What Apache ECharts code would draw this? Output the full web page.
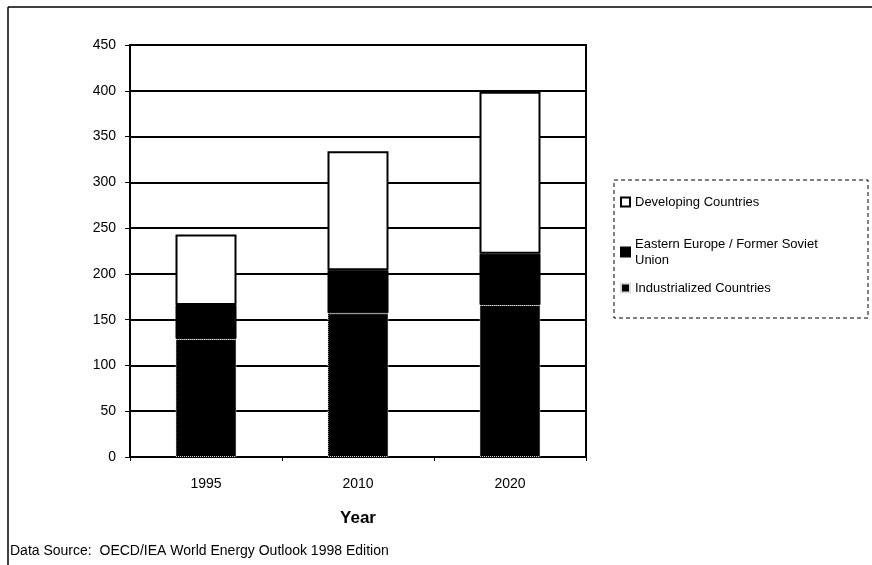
<!DOCTYPE html>
<html>
<head>
<meta charset="utf-8">
<script src="https://cdn.jsdelivr.net/npm/echarts@6/dist/echarts.min.js"></script>
<style>
  html, body { margin: 0; padding: 0; background: #fff; }
  #main { width: 872px; height: 565px; }
</style>
</head>
<body>
<div id="main"></div>
<script>
// 数据
var years = ['1995', '2010', '2020'];
var industrialized = [129, 157, 166];
var easternEurope = [37, 47, 56];
var developing = [77, 130, 177];
var yTicks = [0, 50, 100, 150, 200, 250, 300, 350, 400, 450];

var nameDev = 'Developing Countries';
var nameEE = 'Eastern Europe / Former Soviet\nUnion';
var nameInd = 'Industrialized Countries';

var chart = echarts.init(document.getElementById('main'));
var font = 'Liberation Sans, Arial, sans-serif';

// 图例，每项单独定位
function legendAt(name, top) {
  return {
    orient: 'vertical',
    left: 615,
    top: top,
    icon: 'rect',
    itemWidth: 9,
    itemHeight: 9,
    itemGap: 0,
    textStyle: { fontSize: 13, fontFamily: font, color: '#000', lineHeight: 16 },
    data: [name]
  };
}

var option = {
  backgroundColor: '#fff',
  animation: false,
  textStyle: { fontFamily: font, color: '#000' },
  grid: { left: 130, right: 286, top: 45, bottom: 108, show: true, borderColor: '#000', borderWidth: 2, backgroundColor: '#fff' },
  legend: [
    legendAt(nameDev, 189),
    legendAt(nameEE, 231),
    legendAt(nameInd, 275)
  ],
  xAxis: {
    type: 'category',
    data: years,
    name: 'Year',
    nameLocation: 'middle',
    nameGap: 53,
    nameTextStyle: { fontSize: 17, fontWeight: 'bold', color: '#000', fontFamily: font },
    axisLine: { lineStyle: { color: '#000', width: 2 } },
    axisTick: { show: true, length: 4, lineStyle: { color: '#000' } },
    axisLabel: { fontSize: 14, color: '#000', margin: 20 }
  },
  yAxis: {
    type: 'value',
    min: yTicks[0],
    max: yTicks[yTicks.length - 1],
    interval: 50,
    axisLine: { show: true, lineStyle: { color: '#000', width: 2 } },
    axisTick: { show: true, length: 5, lineStyle: { color: '#000' } },
    axisLabel: { fontSize: 14, color: '#000', margin: 14 },
    splitLine: { lineStyle: { color: '#000', width: 2 } }
  },
  series: [
    {
      name: nameInd,
      type: 'bar',
      stack: 'total',
      barWidth: 61,
      data: industrialized,
      itemStyle: { color: '#000', borderColor: '#ddd', borderWidth: 1, borderType: 'dotted' }
    },
    {
      name: nameEE,
      type: 'bar',
      stack: 'total',
      data: easternEurope,
      itemStyle: { color: '#000', borderColor: '#000', borderWidth: 1 }
    },
    {
      name: nameDev,
      type: 'bar',
      stack: 'total',
      data: developing,
      itemStyle: { color: '#fff', borderColor: '#000', borderWidth: 2 }
    }
  ],
  graphic: [
    { type: 'line', shape: { x1: 8, y1: 7, x2: 872, y2: 7 }, style: { stroke: '#000', lineWidth: 1.5 } },
    { type: 'line', shape: { x1: 8, y1: 7, x2: 8, y2: 565 }, style: { stroke: '#000', lineWidth: 1.5 } },
    { type: 'rect', shape: { x: 614, y: 180, width: 254, height: 138 }, style: { fill: 'none', stroke: '#000', lineWidth: 1, lineDash: [4, 3] } },
    { type: 'text', left: 10, top: 544, style: { text: 'Data Source:  OECD/IEA World Energy Outlook 1998 Edition', font: '14px ' + font, fill: '#000' } }
  ]
};
chart.setOption(option);
</script>
</body>
</html>
